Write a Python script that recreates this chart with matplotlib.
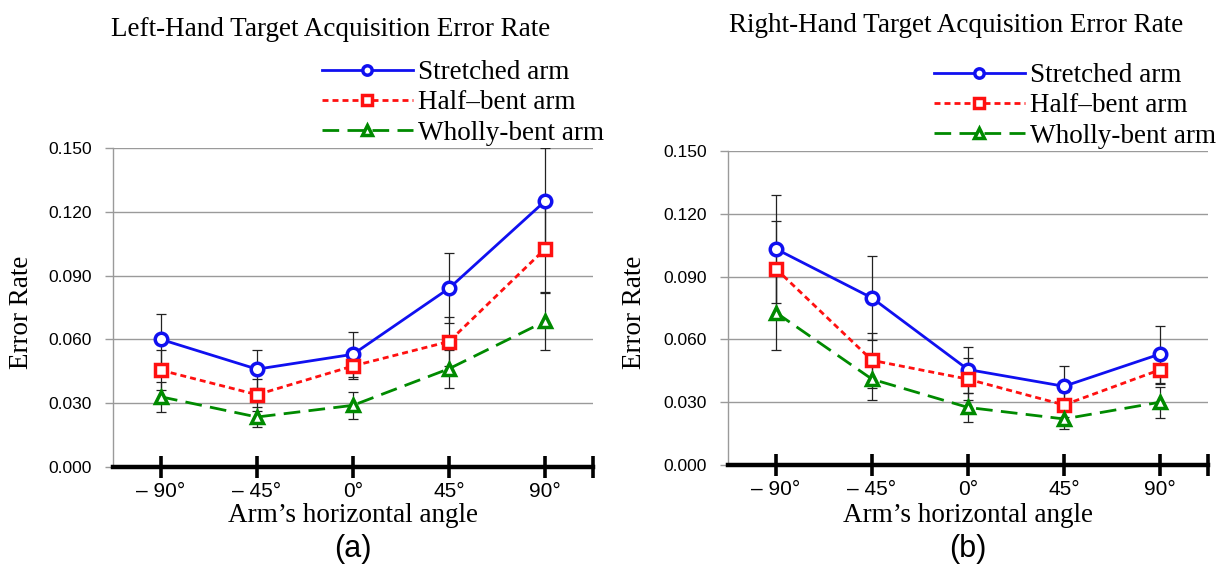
import matplotlib
matplotlib.use('Agg')
from matplotlib import pyplot as plt

plt.rcParams['lines.scale_dashes'] = False

# Categories / tick labels
angles = ['\u2013 90°', '\u2013 45°', '0°', '45°', '90°']
series_names = ['Stretched arm', 'Half\u2013bent arm', 'Wholly-bent arm']
y_ticks = [0.000, 0.030, 0.060, 0.090, 0.120, 0.150]

# Left hand (a)
left_stretched = [0.060, 0.046, 0.053, 0.084, 0.125]
left_half = [0.0455, 0.034, 0.0475, 0.059, 0.1025]
left_wholly = [0.033, 0.0235, 0.029, 0.0462, 0.0685]
left_stretched_err = [0.012, 0.009, 0.0105, 0.0165, 0.025]
left_half_err = [0.0095, 0.0075, 0.006, 0.0113, 0.020]
left_wholly_err = [0.007, 0.0045, 0.0065, 0.009, 0.0135]

# Right hand (b)
right_stretched = [0.1032, 0.0798, 0.0456, 0.0376, 0.053]
right_half = [0.0937, 0.050, 0.041, 0.0287, 0.0455]
right_wholly = [0.0728, 0.041, 0.0275, 0.022, 0.030]
right_stretched_err = [0.026, 0.020, 0.011, 0.0097, 0.0136]
right_half_err = [0.023, 0.013, 0.010, 0.006, 0.007]
right_wholly_err = [0.018, 0.010, 0.007, 0.005, 0.0075]

SERIF = 'Liberation Serif'
SANS = 'Liberation Sans'

styles = [
    dict(color='#1010F0', marker='o', linestyle='-'),
    dict(color='#FF1010', marker='s', linestyle=(0, (4.3, 2.9))),
    dict(color='#008A00', marker='^', linestyle=(0, (12, 6))),
]

W, H = 1227, 566
fig = plt.figure(figsize=(W / 100, H / 100), dpi=100)


def px(x, y):
    return x / W, 1 - y / H


def draw_panel(rect, values, errors, title, title_xy, legend_xy, label, ylab_x):
    ax = fig.add_axes(rect)
    x = list(range(len(angles)))
    for vals, errs in zip(values, errors):
        ax.errorbar(x, vals, yerr=errs, fmt='none', ecolor='#222222',
                    elinewidth=0.9, capsize=3.5, capthick=0.9, zorder=2)
    for vals, name, st in zip(values, series_names, styles):
        ax.plot(x, vals, color=st['color'], linestyle=st['linestyle'],
                linewidth=2.0, marker=st['marker'], markersize=9,
                markerfacecolor='white', markeredgecolor=st['color'],
                markeredgewidth=2.5, label=name, zorder=3)

    ax.set_xlim(-0.5, 4.5)
    ax.set_ylim(0, 0.150)
    ax.set_yticks(y_ticks)
    ax.set_yticklabels([f'{v:.3f}' for v in y_ticks], fontfamily=SANS, fontsize=12.5)
    ax.set_xticks(x)
    ax.set_xticklabels(angles, fontfamily=SANS, fontsize=15)
    ax.set_xticks([4.5], minor=True)
    ax.grid(axis='y', color='#9a9a9a', linewidth=1)
    ax.set_axisbelow(True)
    for s in ['top', 'right']:
        ax.spines[s].set_visible(False)
    ax.spines['left'].set_color('#9a9a9a')
    ax.spines['left'].set_linewidth(1)
    ax.spines['bottom'].set_linewidth(3.2)
    ax.spines['bottom'].set_zorder(4)
    ax.tick_params(axis='y', colors='#9a9a9a', labelcolor='black', length=6, width=1, pad=9)
    ax.tick_params(axis='x', which='both', direction='inout', length=16, width=2.6, pad=3)

    fig.text(*px(*title_xy), title, fontfamily=SERIF, fontsize=19.5, ha='center', va='center')
    fig.text(*px(ylab_x, 312), 'Error Rate', fontfamily=SERIF, fontsize=19.5,
             rotation=90, ha='center', va='center')
    cx = (rect[0] + rect[2] / 2)
    fig.text(cx, 1 - 515 / H, 'Arm\u2019s horizontal angle', fontfamily=SERIF,
             fontsize=19.5, ha='center', va='center')
    fig.text(cx, 1 - 549 / H, label, fontfamily=SANS, fontsize=22, ha='center', va='center')

    ax.legend(loc='upper left', bbox_to_anchor=px(*legend_xy), bbox_transform=fig.transFigure,
              frameon=False, prop={'family': SERIF, 'size': 19.5}, handlelength=3.35,
              handletextpad=0.2, labelspacing=0.2, borderpad=0, borderaxespad=0,
              markerscale=0.75)
    return ax


draw_panel([113 / W, 1 - 467 / H, 480 / W, 319 / H],
           [left_stretched, left_half, left_wholly],
           [left_stretched_err, left_half_err, left_wholly_err],
           'Left-Hand Target Acquisition Error Rate', (331, 29), (322, 60), '(a)', 22)

draw_panel([728 / W, 1 - 465 / H, 480 / W, 314 / H],
           [right_stretched, right_half, right_wholly],
           [right_stretched_err, right_half_err, right_wholly_err],
           'Right-Hand Target Acquisition Error Rate', (956, 26), (934, 63), '(b)', 634)

fig.savefig('out.png', dpi=100)
